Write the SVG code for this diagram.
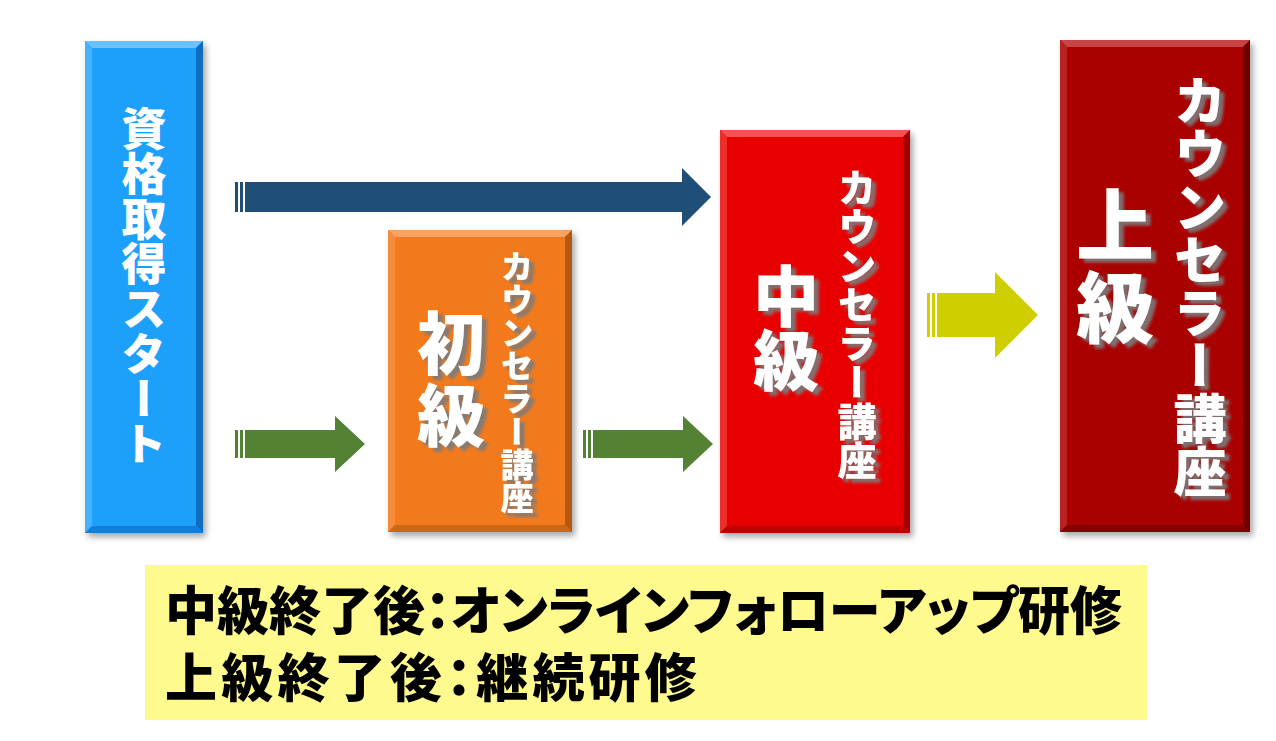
<svg xmlns="http://www.w3.org/2000/svg" width="1276" height="741" viewBox="0 0 1276 741">
<defs>
<style>
.lbl{font-family:"Noto Sans CJK JP","Noto Sans CJK SC",sans-serif;font-weight:900;fill:#fff}
.vert{writing-mode:vertical-rl;text-orientation:upright}
.sh{filter:url(#tshadow)}
.note{font-family:"Noto Sans CJK JP","Noto Sans CJK SC",sans-serif;font-weight:900;fill:#000;font-size:52px;font-feature-settings:"palt"}
</style>
<filter id="boxshadow" x="-20%" y="-10%" width="140%" height="120%">
<feDropShadow dx="3" dy="4" stdDeviation="3" flood-color="#000" flood-opacity="0.35"/>
</filter>
<filter id="tshadow" x="-20%" y="-10%" width="140%" height="120%">
<feDropShadow dx="5" dy="4" stdDeviation="1.6" flood-color="#7a7a7a" flood-opacity="0.9"/>
</filter>
</defs>
<rect width="1276" height="741" fill="#fff"/>

<g id="connectors">
<g fill="#1F4E79">
<rect x="235" y="182" width="3" height="30"/>
<rect x="240" y="182" width="3" height="30"/>
<polygon points="245,182 682,182 682,168 711,197 682,226 682,212 245,212"/>
</g>
<g fill="#548235">
<rect x="235" y="430" width="3" height="28"/>
<rect x="240" y="430" width="3" height="28"/>
<polygon points="245,430 335,430 335,416 365,444 335,472 335,458 245,458"/>
<rect x="583" y="430" width="3" height="28"/>
<rect x="588" y="430" width="3" height="28"/>
<polygon points="593,430 683,430 683,416 713,444 683,472 683,458 593,458"/>
</g>
<g fill="#CFCF00">
<rect x="927" y="293" width="3" height="44"/>
<rect x="932" y="293" width="3" height="44"/>
<polygon points="937,293 995,293 995,272 1038,315 995,358 995,337 937,337"/>
</g>
</g>

<g id="start">
<rect x="85" y="41" width="118" height="492" fill="#1FA0FC" filter="url(#boxshadow)"/>
<polygon points="85,41 203,41 196,48 92,48" fill="#6CC2FF"/>
<polygon points="85,41 92,48 92,526 85,533" fill="#45B2FF"/>
<polygon points="203,41 203,533 196,526 196,48" fill="#0F6CC0"/>
<polygon points="85,533 92,526 196,526 203,533" fill="#137ED6"/>
<text class="lbl vert" x="144" y="106" font-size="45">資格取得スタート</text>
</g>

<g id="shokyu">
<rect x="388" y="230" width="184" height="302" fill="#F37A1E" filter="url(#boxshadow)"/>
<polygon points="388,230 572,230 565,237 395,237" fill="#F9A262"/>
<polygon points="388,230 395,237 395,525 388,532" fill="#F58C3C"/>
<polygon points="572,230 572,532 565,525 565,237" fill="#B45812"/>
<polygon points="388,532 395,525 565,525 572,532" fill="#CF6614"/>
<text class="lbl vert sh" x="451" y="309" font-size="68" letter-spacing="4">初級</text>
<text class="lbl vert sh" x="517" y="250" font-size="33">カウンセラー講座</text>
</g>

<g id="chukyu">
<rect x="720" y="130" width="190" height="403" fill="#E80606" filter="url(#boxshadow)"/>
<polygon points="720,130 910,130 903,137 727,137" fill="#F45252"/>
<polygon points="720,130 727,137 727,526 720,533" fill="#EE2C2C"/>
<polygon points="910,130 910,533 903,526 903,137" fill="#A40000"/>
<polygon points="720,533 727,526 903,526 910,533" fill="#BE0000"/>
<text class="lbl vert sh" x="786" y="263" font-size="66" letter-spacing="-2">中級</text>
<text class="lbl vert sh" x="857" y="168" font-size="39">カウンセラー講座</text>
</g>

<g id="jokyu">
<rect x="1060" y="40" width="190" height="492" fill="#A90404" filter="url(#boxshadow)"/>
<polygon points="1060,40 1250,40 1243,47 1067,47" fill="#C84444"/>
<polygon points="1060,40 1067,47 1067,525 1060,532" fill="#B82222"/>
<polygon points="1250,40 1250,532 1243,525 1243,47" fill="#6E0000"/>
<polygon points="1060,532 1067,525 1243,525 1250,532" fill="#860000"/>
<text class="lbl vert sh" x="1115" y="186" font-size="78" letter-spacing="4">上級</text>
<text class="lbl vert sh" x="1200" y="74" font-size="53">カウンセラー講座</text>
</g>

<g id="notes">
<rect x="145" y="565" width="1002" height="155" fill="#FFFA8E"/>
<text class="note" x="165" y="630" textLength="957" lengthAdjust="spacing">中級終了後：オンラインフォローアップ研修</text>
<text class="note" x="165" y="697" letter-spacing="4.2">上級終了後：継続研修</text>
</g>
</svg>
